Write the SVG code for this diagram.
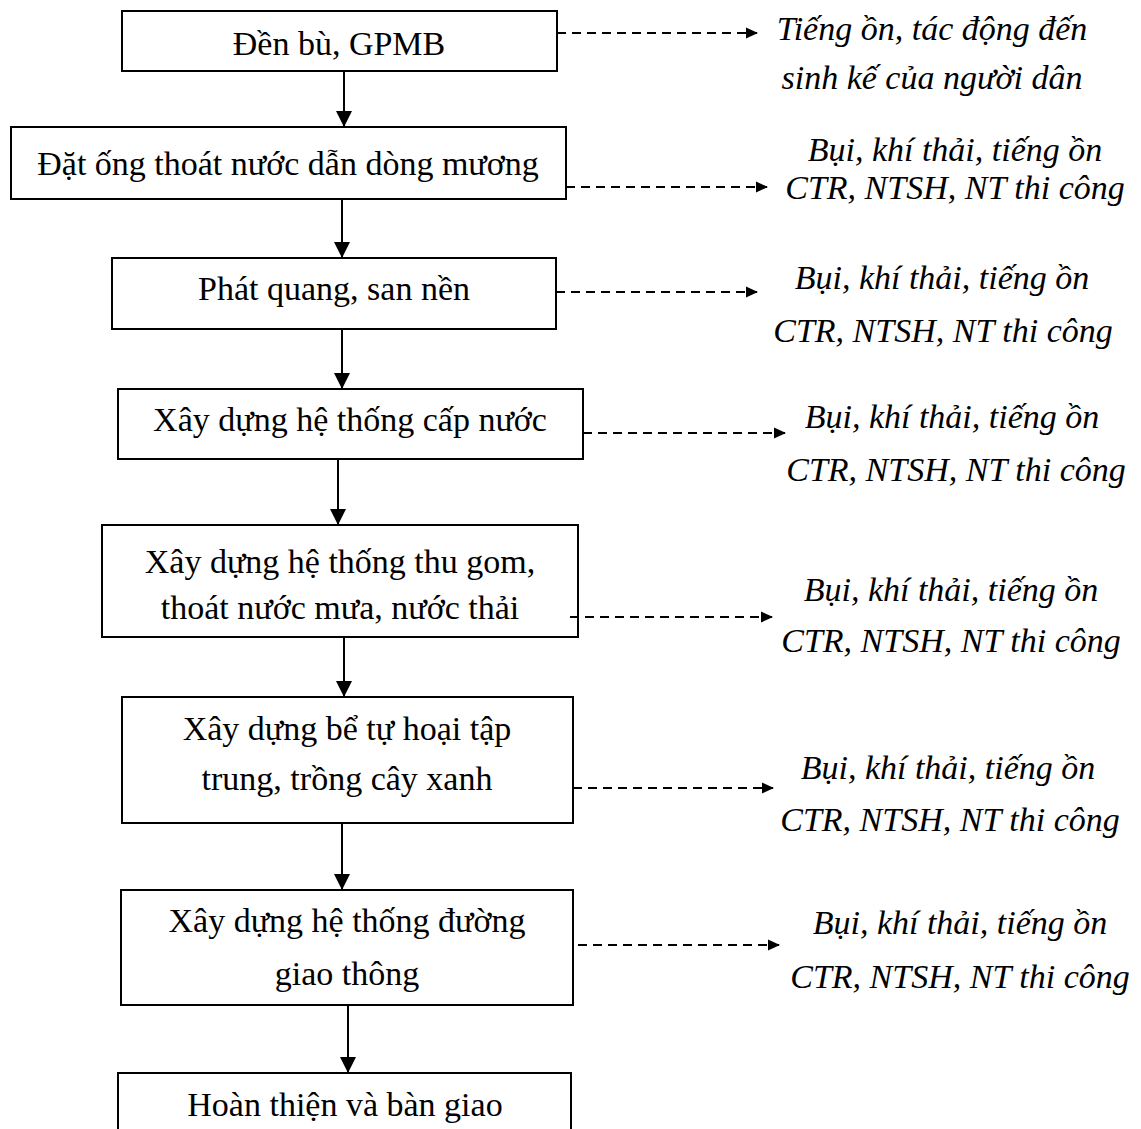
<svg xmlns="http://www.w3.org/2000/svg" width="1141" height="1129" viewBox="0 0 1141 1129">
<defs>
<marker id="ah" markerWidth="12" markerHeight="12" refX="11" refY="6" orient="auto" markerUnits="userSpaceOnUse" viewBox="0 0 12 12">
<path d="M0,0.5 L12,6 L0,11.5 z" fill="#000"/>
</marker>
<marker id="ahv" markerWidth="16" markerHeight="16" refX="15" refY="8" orient="auto" markerUnits="userSpaceOnUse" viewBox="0 0 16 16">
<path d="M0,0 L16,8 L0,16 z" fill="#000"/>
</marker>
</defs>
<style>
.box{fill:#fff;stroke:#000;stroke-width:2}
.t{font-family:"Liberation Serif","Times New Roman",serif;font-size:34px;fill:#000;text-anchor:middle}
.l{font-family:"Liberation Serif","Times New Roman",serif;font-size:34px;font-style:italic;fill:#000;text-anchor:middle}
.solid{stroke:#000;stroke-width:2;fill:none;marker-end:url(#ahv)}
.dash{stroke:#000;stroke-width:2;fill:none;stroke-dasharray:9,6;marker-end:url(#ah)}
</style>
<rect width="1141" height="1129" fill="#fff"/>
<g id="n1"><rect class="box" x="122" y="11" width="435" height="60"/><text class="t" x="339" y="55">Đền bù, GPMB</text></g>
<g id="n2"><rect class="box" x="11" y="127" width="555" height="72"/><text class="t" x="288" y="175">Đặt ống thoát nước dẫn dòng mương</text></g>
<g id="n3"><rect class="box" x="112" y="258" width="444" height="71"/><text class="t" x="334" y="300">Phát quang, san nền</text></g>
<g id="n4"><rect class="box" x="118" y="389" width="465" height="70"/><text class="t" x="350" y="431">Xây dựng hệ thống cấp nước</text></g>
<g id="n5"><rect class="box" x="102" y="525" width="476" height="112"/><text class="t" x="340" y="573">Xây dựng hệ thống thu gom,</text><text class="t" x="340" y="619">thoát nước mưa, nước thải</text></g>
<g id="n6"><rect class="box" x="122" y="697" width="451" height="126"/><text class="t" x="347" y="740">Xây dựng bể tự hoại tập</text><text class="t" x="347" y="790">trung, trồng cây xanh</text></g>
<g id="n7"><rect class="box" x="121" y="890" width="452" height="115"/><text class="t" x="347" y="932">Xây dựng hệ thống đường</text><text class="t" x="347" y="985">giao thông</text></g>
<g id="n8"><rect class="box" x="118" y="1073" width="453" height="80"/><text class="t" x="345" y="1116">Hoàn thiện và bàn giao</text></g>
<g id="connectors">
<line class="solid" x1="344" y1="71" x2="344" y2="126"/>
<line class="solid" x1="342" y1="199" x2="342" y2="257"/>
<line class="solid" x1="342" y1="329" x2="342" y2="388"/>
<line class="solid" x1="338" y1="459" x2="338" y2="524"/>
<line class="solid" x1="344" y1="637" x2="344" y2="696"/>
<line class="solid" x1="342" y1="823" x2="342" y2="889"/>
<line class="solid" x1="348" y1="1005" x2="348" y2="1072"/>
<line class="dash" x1="557" y1="33" x2="757" y2="33"/>
<line class="dash" x1="566" y1="187" x2="767" y2="187"/>
<line class="dash" x1="556" y1="292" x2="757" y2="292"/>
<line class="dash" x1="583" y1="433" x2="785" y2="433"/>
<line class="dash" x1="570" y1="617" x2="772" y2="617"/>
<line class="dash" x1="573" y1="788" x2="773" y2="788"/>
<line class="dash" x1="578" y1="945" x2="779" y2="945"/>
</g>
<g id="labels">
<text class="l" x="932" y="40">Tiếng ồn, tác động đến</text>
<text class="l" x="932" y="89">sinh kế của người dân</text>
<text class="l" x="955" y="161">Bụi, khí thải, tiếng ồn</text>
<text class="l" x="955" y="199">CTR, NTSH, NT thi công</text>
<text class="l" x="942" y="289">Bụi, khí thải, tiếng ồn</text>
<text class="l" x="943" y="342">CTR, NTSH, NT thi công</text>
<text class="l" x="952" y="428">Bụi, khí thải, tiếng ồn</text>
<text class="l" x="956" y="481">CTR, NTSH, NT thi công</text>
<text class="l" x="951" y="601">Bụi, khí thải, tiếng ồn</text>
<text class="l" x="951" y="652">CTR, NTSH, NT thi công</text>
<text class="l" x="948" y="779">Bụi, khí thải, tiếng ồn</text>
<text class="l" x="950" y="831">CTR, NTSH, NT thi công</text>
<text class="l" x="960" y="934">Bụi, khí thải, tiếng ồn</text>
<text class="l" x="960" y="988">CTR, NTSH, NT thi công</text>
</g>
</svg>
